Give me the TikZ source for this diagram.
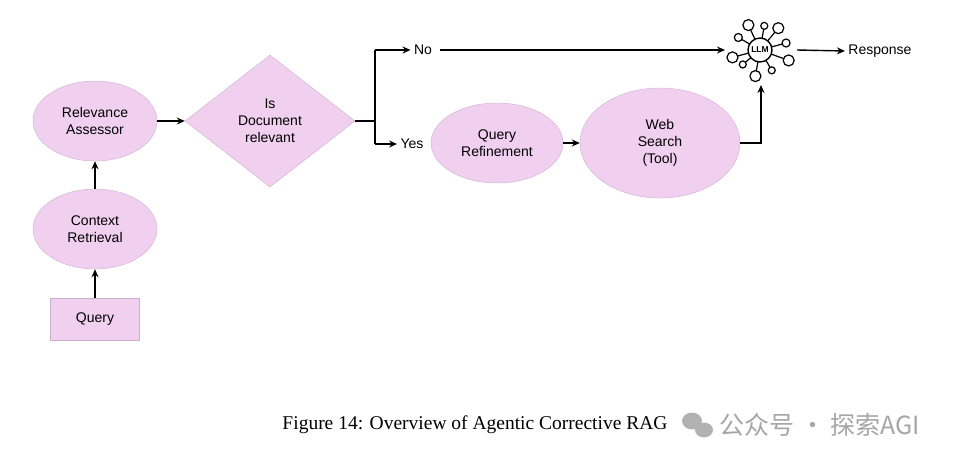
\documentclass[tikz,border=0pt]{standalone}
\usepackage{fontspec}
\setmainfont{Liberation Sans}
\newfontfamily\capfont{Liberation Serif}
\newfontfamily\cjk{Noto Sans CJK SC}
\usetikzlibrary{shapes.geometric,arrows.meta,calc}
\definecolor{pfill}{RGB}{240,208,238}
\definecolor{pline}{RGB}{205,175,205}
\begin{document}
\begin{tikzpicture}[x=1pt,y=-1pt,
  el/.style={ellipse,fill=pfill,draw=pline,inner sep=0pt,align=center,font=\fontsize{14}{17}\selectfont},
  arr/.style={-{Stealth[length=8pt,width=7pt]},line width=1.4pt},
  ln/.style={line width=1.4pt},
  lbl/.style={font=\fontsize{14}{17}\selectfont}]
\useasboundingbox (0,0) rectangle (954,463);
\node[el,minimum width=124pt,minimum height=80pt] (ra) at (95,121) {Relevance\\Assessor};
\node[el,minimum width=124pt,minimum height=80pt] (cr) at (95,229) {Context\\Retrieval};
\node[draw=pline,fill=pfill,minimum width=89pt,minimum height=42pt,lbl] (q) at (95,319) {Query};
\node[diamond,fill=pfill,draw=pline,minimum width=170pt,minimum height=132pt,inner sep=0pt,align=center,lbl] (d) at (270,121) {Is\\Document\\relevant};
\node[el,minimum width=132pt,minimum height=80pt] (qr) at (497,143) {Query\\Refinement};
\node[el,minimum width=160pt,minimum height=110pt] (ws) at (660,143) {Web\\Search\\(Tool)};
\node[lbl] (no) at (423,50) {No};
\node[lbl] (yes) at (412,144) {Yes};
\node[lbl] (resp) at (880,51) {Response};
% LLM icon
\node[circle,draw,line width=1.4pt,minimum size=24pt,inner sep=0pt,font=\bfseries\fontsize{8.5}{8.5}\selectfont] (llm) at (760,50) {LLM};
\foreach \a/\l/\r in {100/9/5.5, 60/8/3.5, 20/13/5.5, -15/11/4, -50/11/5.5, -80/9/3.5, -115/10/5.5, -150/9/4, 165/11/5.5, 140/7/3.5}{
  \draw[line width=1.2pt] ($(llm)+(\a:12)$) -- ($(llm)+(\a:{12+\l})$);
  \draw[line width=1.2pt,fill=white] ($(llm)+(\a:{12+\l+\r})$) circle (\r);
}
\draw[arr] (q) -- (cr);
\draw[arr] (cr) -- (ra);
\draw[arr] (ra) -- (d);
\coordinate (br) at (375,121);
\draw[ln] (d.east) -- (br);
\draw[ln] (375,50) -- (375,144);
\draw[arr] (375,50) -- (no.west);
\draw[arr] (375,144) -- (yes.west);
\draw[arr] (440,50) -- (725,50);
\draw[arr] (797,50) -- (resp.west);
\draw[arr] (qr) -- (ws);
\draw[ln] (ws.east) -- (761,143);
\draw[arr] (761,143.7) -- (761,85);
\node[font=\capfont\fontsize{19.5}{22}\selectfont] (cap) at (475,425) {Figure 14: Overview of Agentic Corrective RAG};
\node[text=gray!70,font=\cjk\fontsize{25}{28}\selectfont,anchor=west] (wm) at (716,425) {公众号 · 探索AGI};
\fill[gray!60] (692,421) ellipse (10 and 8.5);
\fill[gray!60] (704,430) ellipse (9 and 7.5);
\end{tikzpicture}
\end{document}
